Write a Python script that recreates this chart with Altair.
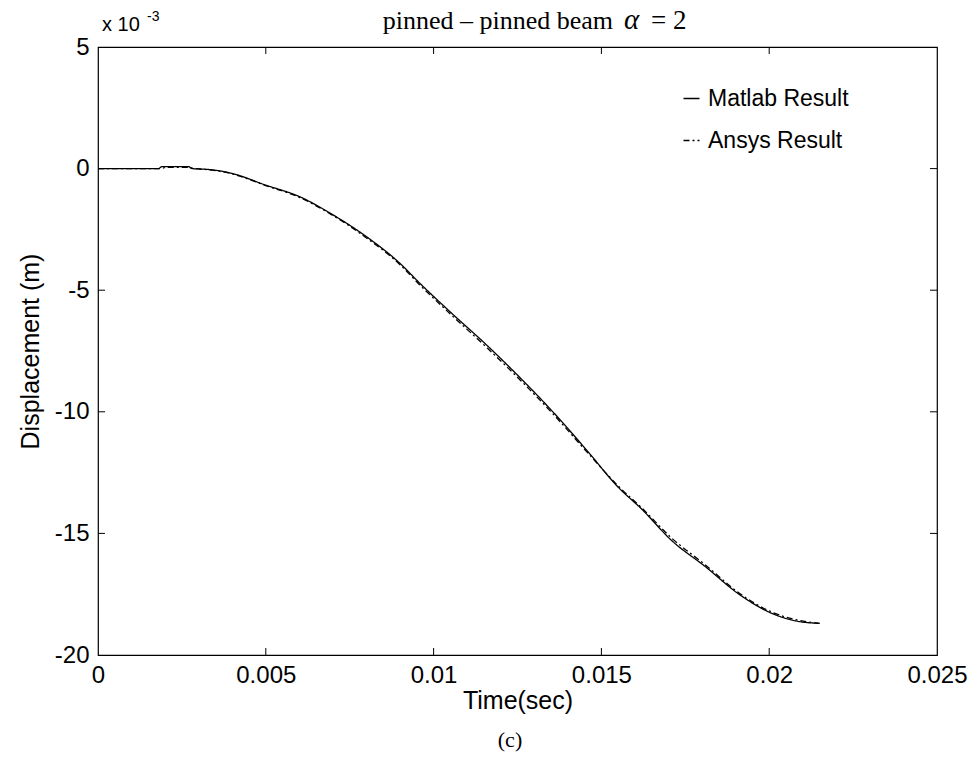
import altair as alt
import pandas as pd

# ---- data (displacement in units of 1e-3 m) ----
matlab_t = [0.0, 0.001, 0.0018, 0.0019, 0.0027, 0.0028, 0.0031, 0.0034, 0.004, 0.005,
            0.006, 0.007, 0.008, 0.009, 0.0096, 0.0105, 0.0116, 0.0126, 0.0136, 0.0146,
            0.0155, 0.0162, 0.0171, 0.0181, 0.0191, 0.0201, 0.0208, 0.0215]
matlab_y = [0.0, 0.0, 0.0, 0.08, 0.08, 0.0, -0.02, -0.05, -0.2, -0.68,
            -1.15, -1.9, -2.8, -3.9, -4.73, -5.9, -7.28, -8.63, -10.07, -11.64,
            -13.1, -14.0, -15.3, -16.37, -17.5, -18.3, -18.6, -18.7]

ansys_t = [0.0, 0.001, 0.0019, 0.002, 0.0027, 0.0029, 0.0034, 0.004, 0.005, 0.006,
           0.007, 0.008, 0.009, 0.0096, 0.0105, 0.0116, 0.0126, 0.0136, 0.0146, 0.0155,
           0.0162, 0.0171, 0.0181, 0.0191, 0.0201, 0.0208, 0.0215]
ansys_y = [0.0, 0.0, 0.0, 0.05, 0.05, 0.0, -0.06, -0.22, -0.7, -1.18,
           -1.93, -2.85, -3.95, -4.8, -5.98, -7.38, -8.72, -10.15, -11.7, -13.05,
           -13.95, -15.2, -16.3, -17.45, -18.25, -18.55, -18.7]

series_names = ["Matlab Result", "Ansys Result"]
x_ticks = [0, 0.005, 0.01, 0.015, 0.02, 0.025]
y_ticks = [-20, -15, -10, -5, 0, 5]
x_inner = [0.005, 0.01, 0.015, 0.02]
y_inner = [-15, -10, -5, 0]

W, H = 839, 608
SANS = "Liberation Sans Narrow, Liberation Sans, Arial, sans-serif"
SANSW = "Liberation Sans, Arial, sans-serif"
SERIF = "Liberation Serif, Times New Roman, serif"

df = pd.concat([
    pd.DataFrame({"t": matlab_t, "y": matlab_y, "series": series_names[0], "o": range(len(matlab_t))}),
    pd.DataFrame({"t": ansys_t, "y": ansys_y, "series": series_names[1], "o": range(len(ansys_t))}),
])

xs = alt.Scale(domain=[0, 0.025], nice=False, zero=False)
ys = alt.Scale(domain=[-20, 5], nice=False, zero=False)

lines = alt.Chart(df).mark_line(color="black", strokeWidth=1.3, interpolate="monotone").encode(
    x=alt.X("t:Q", scale=xs,
            axis=alt.Axis(values=x_ticks, labelExpr="''+datum.value", title="Time(sec)",
                          domain=False, ticks=False, grid=False, labelPadding=8,
                          labelFont=SANS, labelFontSize=24, labelColor="black",
                          labelFontWeight="normal", titleFont=SANS, titleFontSize=25,
                          titleFontWeight="normal", titleColor="black", titlePadding=1,
                          labelFlush=False)),
    y=alt.Y("y:Q", scale=ys,
            axis=alt.Axis(values=y_ticks, labelExpr="''+datum.value", title="Displacement (m)",
                          domain=False, ticks=False, grid=False, labelPadding=9,
                          labelFont=SANS, labelFontSize=24, labelColor="black",
                          titleFont=SANS, titleFontSize=25, titleFontWeight="normal",
                          titleColor="black", titlePadding=11, labelFlush=False)),
    strokeDash=alt.StrokeDash("series:N",
                              scale=alt.Scale(domain=series_names, range=[[1, 0], [6, 3, 2, 3]]),
                              legend=alt.Legend(title=None, orient="none", legendX=582, legendY=40,
                                                symbolType="stroke", symbolSize=256,
                                                symbolStrokeColor="black", symbolStrokeWidth=1.3,
                                                labelFont=SANSW, labelFontSize=23, labelColor="black",
                                                labelOffset=5, rowPadding=18, padding=0)),
    order="o:Q",
    detail="series:N",
)

xt = pd.DataFrame({"v": x_inner})
yt = pd.DataFrame({"v": y_inner})
tick_bottom = alt.Chart(xt).mark_rule(color="black", strokeWidth=1).encode(
    x=alt.X("v:Q", scale=xs), y=alt.value(H), y2=alt.value(H - 7))
tick_top = alt.Chart(xt).mark_rule(color="black", strokeWidth=1).encode(
    x=alt.X("v:Q", scale=xs), y=alt.value(0), y2=alt.value(7))
tick_left = alt.Chart(yt).mark_rule(color="black", strokeWidth=1).encode(
    y=alt.Y("v:Q", scale=ys), x=alt.value(0), x2=alt.value(7))
tick_right = alt.Chart(yt).mark_rule(color="black", strokeWidth=1).encode(
    y=alt.Y("v:Q", scale=ys), x=alt.value(W), x2=alt.value(W - 7))

def label(txt, x, y, font, size, align="left", style="normal", baseline="alphabetic"):
    return alt.Chart(pd.DataFrame({"s": [txt]})).mark_text(
        font=font, fontSize=size, align=align, baseline=baseline, fontStyle=style, color="black"
    ).encode(text="s:N", x=alt.value(x), y=alt.value(y))

title1 = label("pinned \u2013 pinned beam", 515, -18, SERIF, 26, align="right")
title2 = label("\u03b1", 526, -18, SERIF, 29, style="italic")
title3 = label("=  2", 553, -18, SERIF, 27)
exp1 = label("x 10", 4, -16, SANS, 20)
exp2 = label("-3", 49, -26, SANS, 14)
cap = label("(c)", 412, 700, SERIF, 22, align="center")

chart = alt.layer(lines, tick_bottom, tick_top, tick_left, tick_right,
                  title1, title2, title3, exp1, exp2, cap).properties(
    width=W, height=H,
    autosize=alt.AutoSizeParams(type="none"),
    padding={"left": 98, "top": 47, "right": 36, "bottom": 121},
    background="white",
).configure_view(stroke="black", strokeWidth=1.2)

chart.save("out.html", embed_options={"renderer": "svg", "actions": False})
